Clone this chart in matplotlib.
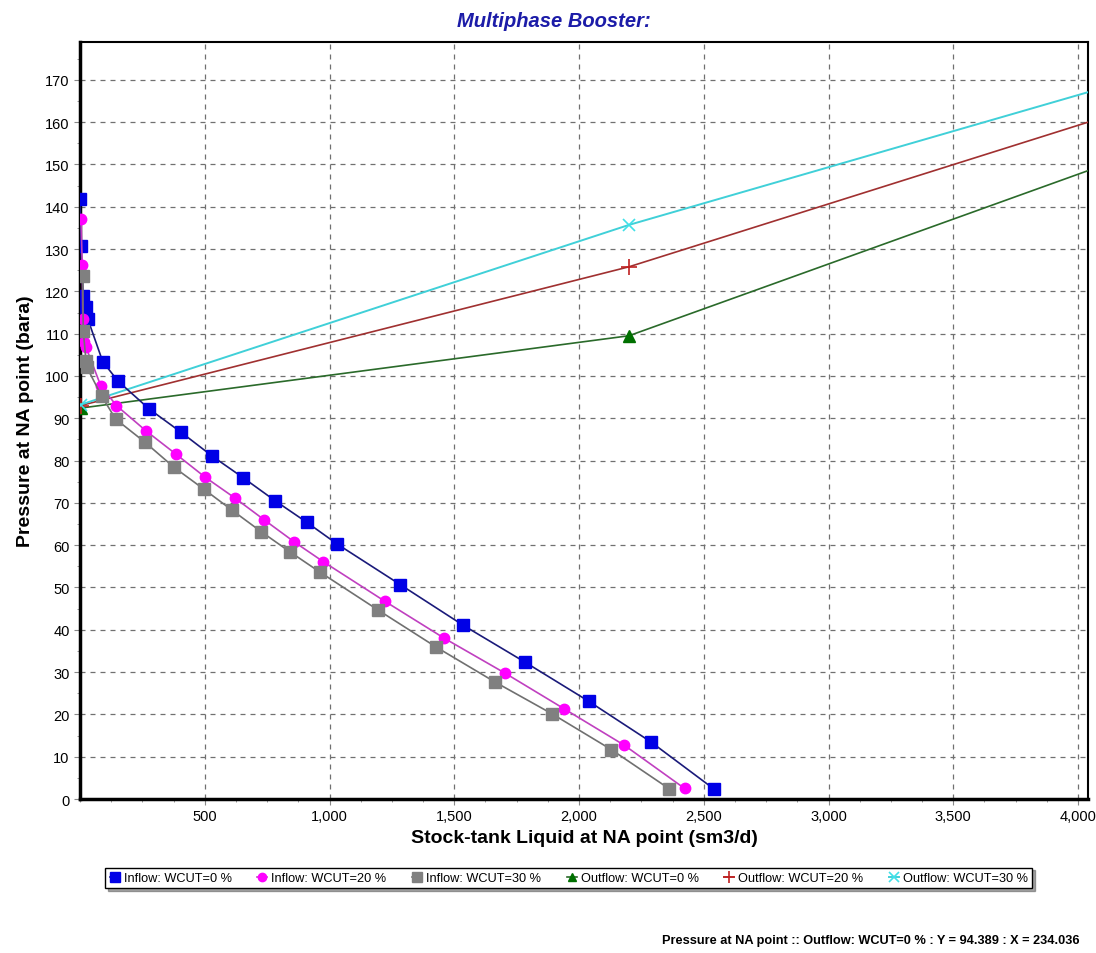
import matplotlib
matplotlib.use("Agg")
import matplotlib.pyplot as plt
from matplotlib.ticker import FixedLocator, MultipleLocator, FuncFormatter

# ---- data ----
in0_x = [1, 3, 13, 23, 31, 91, 152, 277, 405, 531, 655, 782, 909, 1030, 1283, 1535, 1785, 2039, 2288, 2540]
in0_y = [141.8, 130.8, 119.0, 116.2, 113.5, 103.4, 98.8, 92.2, 86.7, 81.0, 75.9, 70.5, 65.4, 60.3, 50.7, 41.1, 32.3, 23.1, 13.5, 2.4]

in20_x = [4, 9, 11, 16, 24, 83, 146, 265, 385, 501, 622, 738, 858, 975, 1223, 1460, 1705, 1941, 2182, 2423]
in20_y = [137.0, 126.2, 113.5, 108.0, 106.8, 97.7, 93.0, 87.0, 81.5, 76.1, 71.1, 66.0, 60.8, 56.1, 46.7, 38.0, 29.7, 21.3, 12.7, 2.5]

in30_x = [11, 13, 24, 27, 87, 143, 261, 377, 495, 611, 726, 842, 960, 1194, 1428, 1662, 1893, 2129, 2362]
in30_y = [123.7, 110.7, 103.6, 102.1, 95.2, 89.8, 84.3, 78.4, 73.3, 68.2, 63.2, 58.4, 53.7, 44.7, 35.9, 27.7, 20.1, 11.7, 2.4]

out0_x = [2, 2200, 4100]
out0_y = [92.4, 109.5, 149.8]
out20_x = [2, 2200, 4100]
out20_y = [93.0, 125.8, 161.1]
out30_x = [2, 2200, 4100]
out30_y = [93.2, 135.7, 168.1]

x_ticks = [500, 1000, 1500, 2000, 2500, 3000, 3500, 4000]
y_ticks = list(range(0, 180, 10))

title = "Multiphase Booster:"
x_label = "Stock-tank Liquid at NA point (sm3/d)"
y_label = "Pressure at NA point (bara)"
status = "Pressure at NA point :: Outflow: WCUT=0 % : Y = 94.389 : X = 234.036"

plt.rcParams['font.family'] = ['Liberation Sans', 'DejaVu Sans']

fig = plt.figure(figsize=(10.96, 9.54), dpi=100)
ax = fig.add_axes([0.073, 0.1614, 0.9197, 0.7938])

ax.plot(in0_x, in0_y, color='#1a1a7a', lw=1.2, marker='s', ms=9, mfc='#0000e6', mec='#0000e6',
        label='Inflow: WCUT=0 %', zorder=5)
ax.plot(in20_x, in20_y, color='#c040c0', lw=1.2, marker='o', ms=7.5, mfc='#ff00ff', mec='#ff00ff',
        label='Inflow: WCUT=20 %', zorder=5)
ax.plot(in30_x, in30_y, color='#707070', lw=1.2, marker='s', ms=9, mfc='#808080', mec='#808080',
        label='Inflow: WCUT=30 %', zorder=5)
ax.plot(out0_x, out0_y, color='#2a6a2a', lw=1.2, marker='^', ms=8, mfc='#007000', mec='#007000',
        markevery=[0, 1], label='Outflow: WCUT=0 %', zorder=4)
ax.plot(out20_x, out20_y, color='#a03030', lw=1.2, marker='+', ms=11, mew=1.2, mec='#c02020',
        markevery=[0, 1], label='Outflow: WCUT=20 %', zorder=4)
ax.plot(out30_x, out30_y, color='#40d0d8', lw=1.4, marker='x', ms=9, mew=1.2, mec='#40e0e8',
        markevery=[0, 1], label='Outflow: WCUT=30 %', zorder=4)

ax.set_xlim(0, 4040)
ax.set_ylim(0, 179)
ax.xaxis.set_major_locator(FixedLocator(x_ticks))
ax.yaxis.set_major_locator(FixedLocator(y_ticks))
ax.xaxis.set_minor_locator(MultipleLocator(125))
ax.yaxis.set_minor_locator(MultipleLocator(5))
ax.xaxis.set_major_formatter(FuncFormatter(lambda v, p: f"{int(v):,}"))
ax.tick_params(axis='both', which='major', labelsize=10.5, length=4, color='#888888')
ax.tick_params(axis='both', which='minor', length=2, color='#888888')
ax.grid(True, which='major', linestyle=(0, (4, 4)), color='#707070', lw=0.9)

for s in ['left', 'bottom']:
    ax.spines[s].set_linewidth(2.5)
for s in ['top', 'right']:
    ax.spines[s].set_linewidth(1.5)

fig.text(0.505, 0.977, title, ha='center', va='center', fontsize=14.5, fontweight='bold',
         fontstyle='italic', color='#1c1ca8')
ax.set_xlabel(x_label, fontsize=14, fontweight='bold', labelpad=4)
ax.set_ylabel(y_label, fontsize=14, fontweight='bold', labelpad=8)

leg = fig.legend(loc='center', bbox_to_anchor=(0.519, 0.0786), ncol=6, fontsize=9.2,
                 frameon=True, fancybox=False, shadow=True, handlelength=0.8,
                 markerscale=0.8, handletextpad=0.3, columnspacing=2.0, borderpad=0.35)
leg.get_frame().set_edgecolor('black')
leg.get_frame().set_linewidth(1.0)

fig.text(0.985, 0.014, status, ha='right', va='center', fontsize=9.2, fontweight='bold')

fig.savefig("out.png", dpi=100)
